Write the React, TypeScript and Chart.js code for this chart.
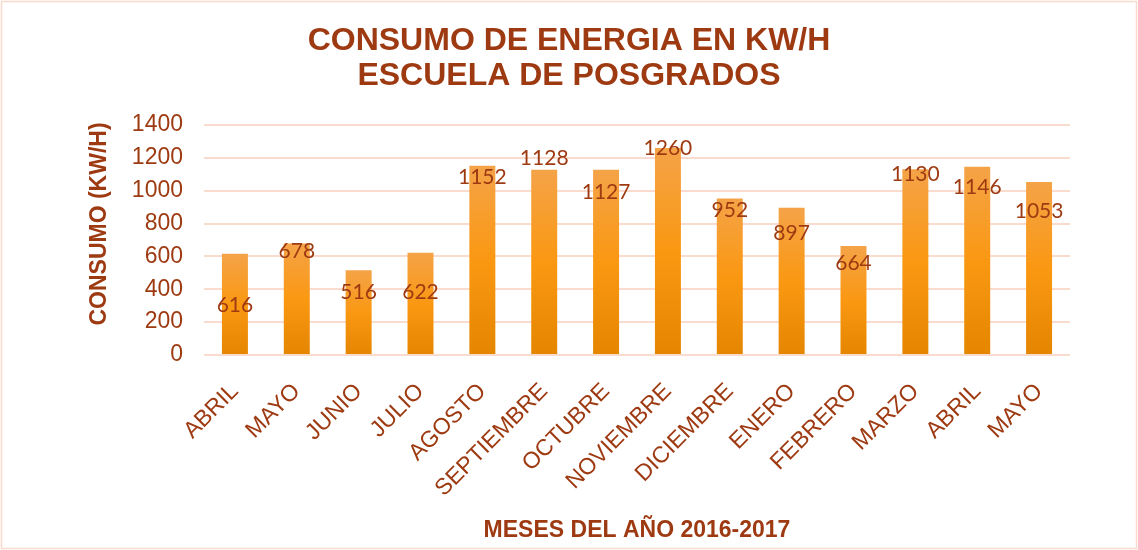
import React, { useEffect, useRef } from "react";
import { Chart, registerables } from "chart.js";

Chart.register(...registerables);

const categories = [
  "ABRIL", "MAYO", "JUNIO", "JULIO", "AGOSTO", "SEPTIEMBRE", "OCTUBRE",
  "NOVIEMBRE", "DICIEMBRE", "ENERO", "FEBRERO", "MARZO", "ABRIL", "MAYO",
];
const consumo = [616, 678, 516, 622, 1152, 1128, 1127, 1260, 952, 897, 664, 1130, 1146, 1053];
// value (in axis units) where each data label is centred, as in the reference
const labelAt = [304, 633, 380, 383, 1083, 1199, 992, 1260, 882, 742, 560, 1102, 1022, 876];
const titleLines = ["CONSUMO DE ENERGIA EN KW/H", "ESCUELA DE POSGRADOS"];
const yTitle = "CONSUMO (KW/H)";
const xTitle = "MESES DEL AÑO 2016-2017";

const RUST = "#9E3A12";

const decorPlugin = {
  id: "decor",
  afterDatasetsDraw(chart: any) {
    const ctx = chart.ctx;
    const meta = chart.getDatasetMeta(0);
    const y = chart.scales.y;
    ctx.save();
    ctx.fillStyle = RUST;
    ctx.font = "21px Lato, 'Open Sans', sans-serif";
    ctx.textAlign = "center";
    ctx.textBaseline = "middle";
    meta.data.forEach((bar: any, i: number) => {
      ctx.fillText(String(consumo[i]), bar.x, y.getPixelForValue(labelAt[i]));
    });
    ctx.restore();
  },
  afterDraw(chart: any) {
    const ctx = chart.ctx;
    const { width, height, chartArea } = chart;
    ctx.save();
    // border
    ctx.strokeStyle = "#FADACB";
    ctx.lineWidth = 1.5;
    ctx.strokeRect(1.5, 1.5, width - 3, height - 3);
    // title
    ctx.fillStyle = RUST;
    ctx.textAlign = "center";
    ctx.textBaseline = "middle";
    ctx.font = "bold 32px 'Liberation Sans', Arial, sans-serif";
    ctx.fillText(titleLines[0], width / 2, 41);
    ctx.fillText(titleLines[1], width / 2, 76);
    // x title
    ctx.font = "bold 23px 'Liberation Sans', Arial, sans-serif";
    ctx.fillText(xTitle, (chartArea.left + chartArea.right) / 2, 531);
    // y title
    ctx.font = "bold 23px 'Liberation Sans', Arial, sans-serif";
    ctx.translate(100, 224);
    ctx.rotate(-Math.PI / 2);
    ctx.fillText(yTitle, 0, 0);
    ctx.restore();
  },
};

export default function App() {
  const ref = useRef<HTMLCanvasElement | null>(null);
  useEffect(() => {
    document.body.style.margin = "0";
    const canvas = ref.current!;
    const chart = new Chart(canvas, {
      type: "bar",
      data: {
        labels: categories,
        datasets: [
          {
            data: consumo,
            backgroundColor: (c: any) => {
              const ch = c.chart;
              const area = ch.chartArea;
              if (!area || c.raw == null) return "#F79A10";
              const top = ch.scales.y.getPixelForValue(c.raw);
              const g = ch.ctx.createLinearGradient(0, top, 0, area.bottom);
              g.addColorStop(0, "#F4A348");
              g.addColorStop(0.5, "#FA9812");
              g.addColorStop(1, "#E58600");
              return g;
            },
            borderWidth: 0,
            barPercentage: 0.42,
            categoryPercentage: 1,
          },
        ],
      },
      options: {
        animation: false,
        responsive: false,
        devicePixelRatio: 1,
        layout: { padding: { top: 125, left: 0, right: 68, bottom: 0 } },
        plugins: {
          legend: { display: false },
          title: { display: false },
          tooltip: { enabled: false },
        },
        scales: {
          x: {
            grid: { display: false },
            border: { display: false },
            ticks: {
              color: RUST,
              font: { family: "'Liberation Sans', Arial, sans-serif", size: 23 },
              minRotation: 45,
              maxRotation: 45,
              autoSkip: false,
              padding: 15,
            },
            afterFit: (s: any) => {
              s.height = 195;
            },
          },
          y: {
            min: 0,
            max: 1400,
            ticks: {
              stepSize: 200,
              color: RUST,
              font: { family: "'Liberation Sans', Arial, sans-serif", size: 23 },
              padding: 21,
              callback: (v: any) => String(v),
            },
            grid: { color: "#FADCCF", lineWidth: 2, drawTicks: false },
            border: { display: false },
            afterFit: (s: any) => {
              s.width = 204;
            },
          },
        },
      },
      plugins: [decorPlugin],
    } as any);
    return () => chart.destroy();
  }, []);
  return <canvas ref={ref} width={1138} height={550} style={{ display: "block" }} />;
}
